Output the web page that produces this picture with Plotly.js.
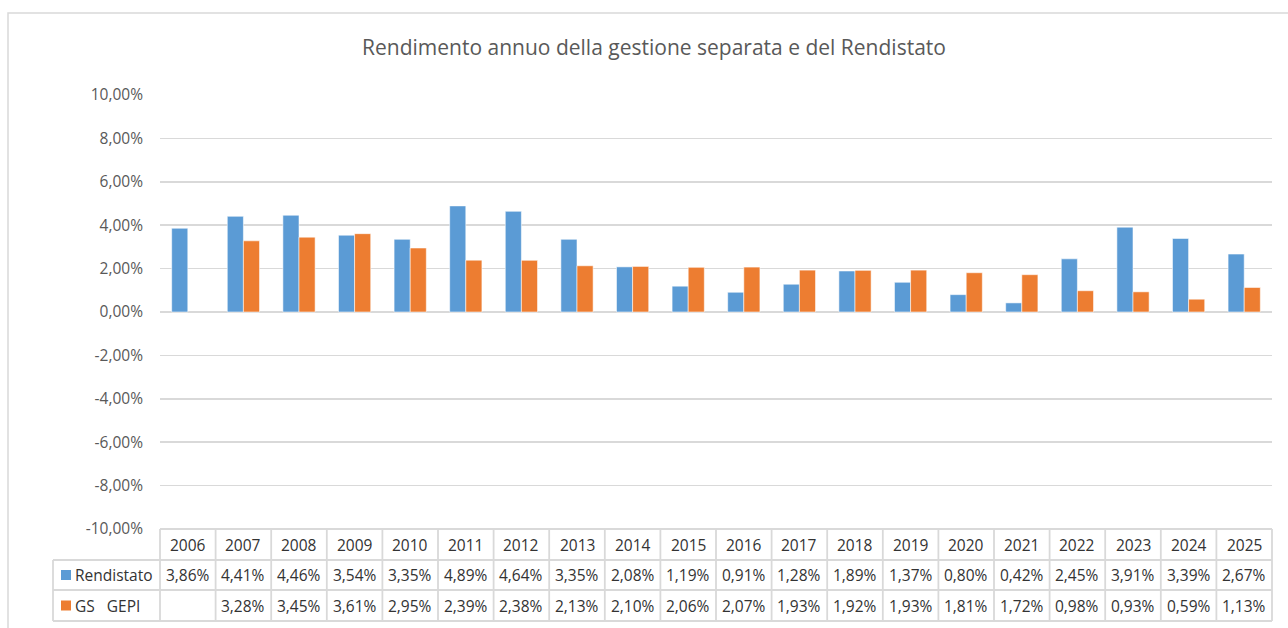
<!DOCTYPE html>
<html>
<head>
<meta charset="utf-8">
<script src="https://cdn.plot.ly/plotly-3.0.1.min.js"></script>
<style>html,body{margin:0;padding:0;background:#fff;}#chart{width:1288px;height:628px;}</style>
</head>
<body>
<div id="chart"></div>
<script>
// ---- data ----
const years = ["2006","2007","2008","2009","2010","2011","2012","2013","2014","2015","2016","2017","2018","2019","2020","2021","2022","2023","2024","2025"];
const rendistato = [3.86,4.41,4.46,3.54,3.35,4.89,4.64,3.35,2.08,1.19,0.91,1.28,1.89,1.37,0.80,0.42,2.45,3.91,3.39,2.67];
const gsGepi = [null,3.28,3.45,3.61,2.95,2.39,2.38,2.13,2.10,2.06,2.07,1.93,1.92,1.93,1.81,1.72,0.98,0.93,0.59,1.13];
const seriesNames = ["Rendistato", "GS   GEPI"];
const seriesColors = ["#5B9BD5", "#ED7D31"];
const yTickVals = [-10,-8,-6,-4,-2,0,2,4,6,8,10];
const titleText = "Rendimento annuo della gestione separata e del Rendistato";

// ---- layout helpers (pixel -> paper) ----
const W = 1288, H = 628;
const M = {l: 160, r: 16, t: 95, b: 99};
const PW = W - M.l - M.r, PH = H - M.t - M.b;
const px = x => (x - M.l) / PW;
const py = y => (H - M.b - y) / PH;

const FONT = "'Open Sans', Lato, sans-serif";
const TXT = "#595959";
const LINE = "#d9d9d9";

const fmt = v => (v === null || v === undefined) ? "" : v.toFixed(2).replace(".", ",") + "%";

const traces = [
  {type: "bar", name: seriesNames[0], x: years, y: rendistato,
   marker: {color: seriesColors[0], line: {color: "rgba(255,255,255,0.55)", width: 1}}, hoverinfo: "x+y"},
  {type: "bar", name: seriesNames[1], x: years, y: gsGepi,
   marker: {color: seriesColors[1], line: {color: "rgba(255,255,255,0.55)", width: 1}}, hoverinfo: "x+y"}
];

// table geometry (pixels)
const rowTop = 529, rowH1 = 560, rowH2 = 590, rowBot = 621, labelLeft = 53;
const shapes = [];
const annotations = [];

// chart outer border
shapes.push({type: "rect", xref: "paper", yref: "paper", x0: px(8), x1: px(1295), y0: py(640), y1: py(13),
  line: {color: LINE, width: 1.5}, layer: "below"});

// horizontal table lines
shapes.push({type: "line", xref: "paper", yref: "paper", x0: 0, x1: 1, y0: py(rowTop), y1: py(rowTop), line: {color: LINE, width: 1.8}});
[rowH1, rowH2, rowBot].forEach(yy => shapes.push({type: "line", xref: "paper", yref: "paper", x0: px(labelLeft), x1: 1, y0: py(yy), y1: py(yy), line: {color: LINE, width: 1.8}}));
// left edge of label column
shapes.push({type: "line", xref: "paper", yref: "paper", x0: px(labelLeft), x1: px(labelLeft), y0: py(rowH1), y1: py(rowBot), line: {color: LINE, width: 1.8}});
// column separators
for (let i = 0; i <= years.length; i++) {
  const xr = (i === 0) ? "paper" : (i === years.length ? "paper" : "x");
  const xv = (i === 0) ? 0 : (i === years.length ? 1 : i - 0.5);
  shapes.push({type: "line", xref: xr, yref: "paper", x0: xv, x1: xv, y0: py(rowTop), y1: py(rowBot), line: {color: LINE, width: 1.8}});
}

const cellFont = {family: FONT, size: 15.5, color: "#333333"};
const yHead = py((rowTop + rowH1) / 2), yR1 = py((rowH1 + rowH2) / 2), yR2 = py((rowH2 + rowBot) / 2);
years.forEach((yr, i) => {
  annotations.push({xref: "x", yref: "paper", x: i, y: yHead, text: yr, showarrow: false, font: cellFont, xanchor: "center", yanchor: "middle"});
  annotations.push({xref: "x", yref: "paper", x: i, y: yR1, text: fmt(rendistato[i]), showarrow: false, font: cellFont, xanchor: "center", yanchor: "middle"});
  annotations.push({xref: "x", yref: "paper", x: i, y: yR2, text: fmt(gsGepi[i]), showarrow: false, font: cellFont, xanchor: "center", yanchor: "middle"});
});
// series labels with legend keys
[yR1, yR2].forEach((yy, k) => {
  shapes.push({type: "rect", xref: "paper", yref: "paper", x0: px(61), x1: px(71), y0: yy - 5 / PH, y1: yy + 5 / PH,
    fillcolor: seriesColors[k], line: {width: 0}});
  annotations.push({xref: "paper", yref: "paper", x: px(73), y: yy, text: seriesNames[k].replace(/ /g, "\u00a0"),
    showarrow: false, font: cellFont, xanchor: "left", yanchor: "middle"});
});

const layout = {
  width: W, height: H,
  margin: M,
  paper_bgcolor: "#ffffff", plot_bgcolor: "#ffffff",
  separators: ",.",
  showlegend: false,
  barmode: "group", bargap: 0.42, bargroupgap: 0,
  title: {text: titleText, font: {family: FONT, size: 21, color: TXT}, xref: "container", x: 654 / W, xanchor: "center", yref: "container", y: 1 - 48 / H, yanchor: "middle"},
  xaxis: {type: "category", range: [-0.5, years.length - 0.5], showticklabels: false, showgrid: false, zeroline: false, showline: false, ticks: "", fixedrange: true},
  yaxis: {range: [-10, 10], tickmode: "array", tickvals: yTickVals, ticktext: yTickVals.map(v => v.toFixed(2).replace(".", ",") + "%"),
    showgrid: true, gridcolor: LINE, gridwidth: 1.5,
    zeroline: false, showline: false, ticks: "", ticklabelstandoff: 16,
    tickfont: {family: FONT, size: 15.5, color: TXT}, fixedrange: true},
  shapes: shapes,
  annotations: annotations
};

Plotly.newPlot("chart", traces, layout, {displayModeBar: false, staticPlot: true});
</script>
</body>
</html>
